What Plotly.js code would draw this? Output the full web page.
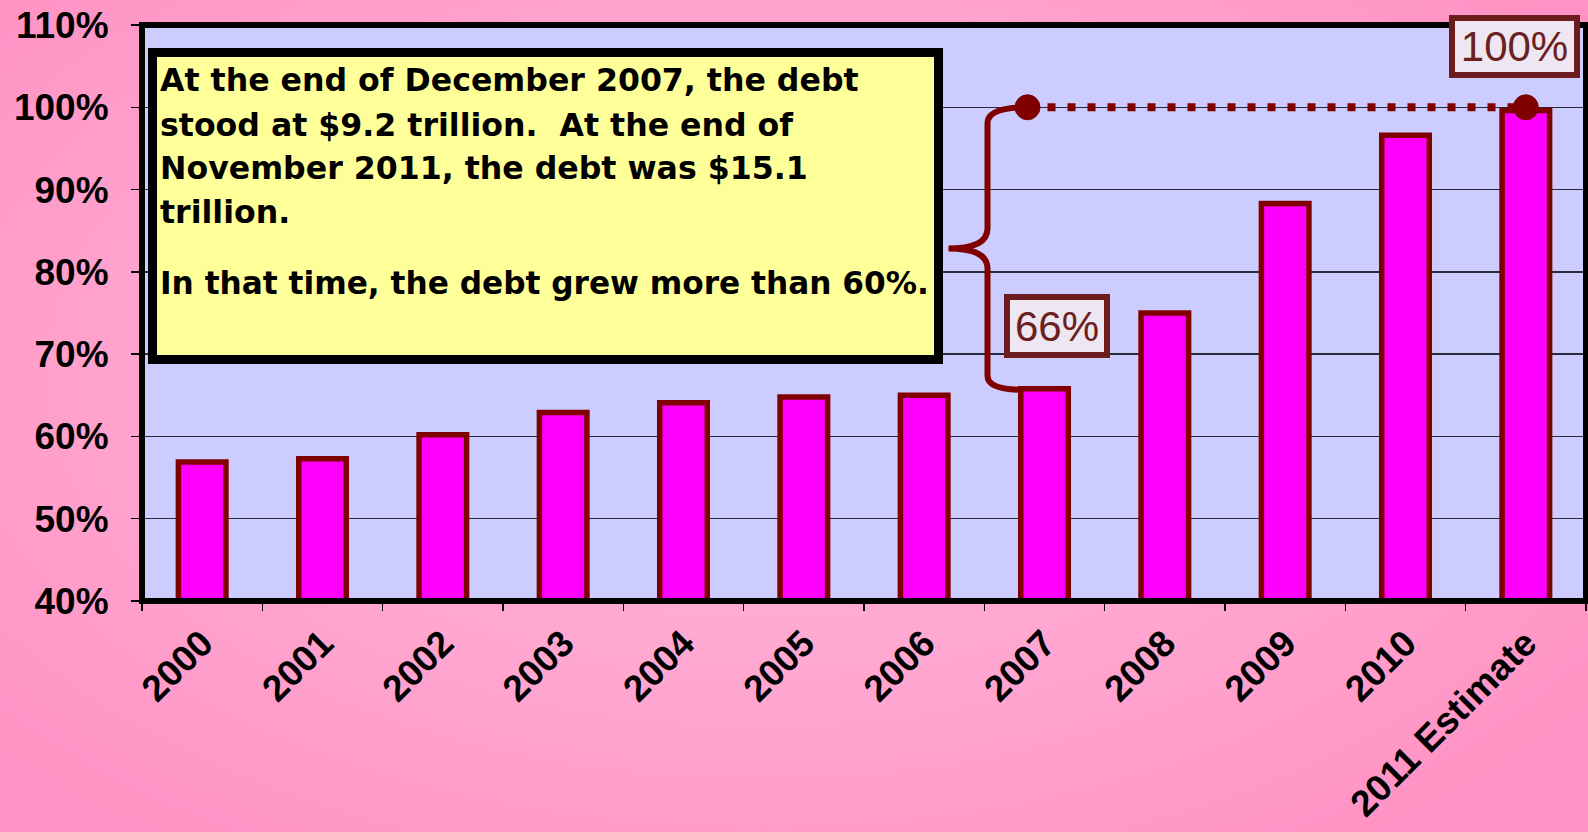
<!DOCTYPE html>
<html>
<head>
<meta charset="utf-8">
<script src="https://cdn.plot.ly/plotly-3.0.1.min.js"></script>
<style>
  html, body { margin: 0; padding: 0; }
  #chart {
    width: 1588px; height: 832px;
    background: radial-gradient(ellipse 65% 70% at 48% 45%, #ffb8da 0%, #ffa6d0 55%, #ff92c4 100%);
  }
</style>
</head>
<body>
<div id="chart"></div>
<script>
// ---- data ----
const categories = ['2000', '2001', '2002', '2003', '2004', '2005', '2006', '2007', '2008', '2009', '2010', '2011 Estimate'];
const debtPct = [56.9, 57.3, 60.2, 62.9, 64.1, 64.8, 65.0, 65.8, 75.0, 88.3, 96.6, 99.6];
const yTickVals = [40, 50, 60, 70, 80, 90, 100, 110];
const yTickText = ['40%', '50%', '60%', '70%', '80%', '90%', '100%', '110%'];
const noteLines = [
  'At the end of December 2007, the debt',
  'stood at $9.2 trillion.  At the end of',
  'November 2011, the debt was $15.1',
  'trillion.',
  'In that time, the debt grew more than 60%.'
];
const growthLabel = '66%';
const endLabel = '100%';
const startCategory = '2007';
const endCategory = '2011 Estimate';
const endLevel = 100;

// ---- geometry helpers ----
const W = 1588, H = 832;
const M = {l: 142, r: 2, t: 25, b: 231};
const pw = W - M.l - M.r, ph = H - M.t - M.b;
const yMin = 40, yMax = 110;
const px2x = px => (px - M.l) / pw;
const py2y = py => (H - M.b - py) / ph;
const catPx = i => M.l + (i + 0.5) * pw / categories.length;
const valPy = v => M.t + (yMax - v) * ph / (yMax - yMin);

const iStart = categories.indexOf(startCategory);
const iEnd = categories.indexOf(endCategory);
const maroon = '#800000';

// brace path (pixel space -> paper)
const cx = catPx(iStart);
const spineX = cx - 57, tipX = cx - 96;
const topX = cx - 17, topY = valPy(endLevel);
const botX = cx - 22, botY = valPy(debtPct[iStart]) + 1;
const midY = (topY + botY) / 2;
const P = (x, y) => px2x(x).toFixed(5) + ',' + py2y(y).toFixed(5);
const bracePath = 'M ' + P(topX, topY) +
  ' Q ' + P(spineX, topY) + ' ' + P(spineX, topY + 16) +
  ' L ' + P(spineX, midY - 20) +
  ' Q ' + P(spineX, midY) + ' ' + P(tipX, midY) +
  ' Q ' + P(spineX, midY) + ' ' + P(spineX, midY + 20) +
  ' L ' + P(spineX, botY - 14) +
  ' Q ' + P(spineX, botY) + ' ' + P(botX, botY);

const trace = {
  type: 'bar',
  x: categories,
  y: debtPct,
  marker: {color: '#ff00ff', line: {color: maroon, width: 5.5}},
  hoverinfo: 'x+y'
};

const shapes = [
  // text box
  {type: 'rect', xref: 'paper', yref: 'paper', layer: 'above',
   x0: px2x(152.5), x1: px2x(938.5), y0: py2y(52.5), y1: py2y(359.5),
   fillcolor: '#ffff99', line: {color: '#000000', width: 9}},
  // plot border
  {type: 'rect', xref: 'paper', yref: 'paper', layer: 'above',
   x0: 0, x1: 1, y0: 0, y1: 1, line: {color: '#000000', width: 6}},
  // brace
  {type: 'path', xref: 'paper', yref: 'paper', layer: 'above',
   path: bracePath, line: {color: maroon, width: 6}},
  // dotted level line
  {type: 'line', xref: 'paper', yref: 'paper', layer: 'above',
   x0: px2x(topX), x1: px2x(catPx(iEnd)), y0: py2y(topY), y1: py2y(topY),
   line: {color: maroon, width: 8, dash: '8px,12px'}},
  // dots
  {type: 'circle', xref: 'paper', yref: 'paper', layer: 'above',
   xsizemode: 'pixel', ysizemode: 'pixel',
   xanchor: px2x(topX), yanchor: py2y(topY), x0: -12.5, x1: 12.5, y0: -12.5, y1: 12.5,
   fillcolor: maroon, line: {color: maroon, width: 1}},
  {type: 'circle', xref: 'paper', yref: 'paper', layer: 'above',
   xsizemode: 'pixel', ysizemode: 'pixel',
   xanchor: px2x(catPx(iEnd)), yanchor: py2y(topY), x0: -12.5, x1: 12.5, y0: -12.5, y1: 12.5,
   fillcolor: maroon, line: {color: maroon, width: 1}}
];

const noteSizes = [31.6, 31.6, 31.6, 31.6, 31.2];
const noteCenters = [80, 125, 168, 212, 283];
const annotations = noteLines.map((t, k) => ({
  xref: 'paper', yref: 'paper', x: px2x(158), y: py2y(noteCenters[k]),
  xanchor: 'left', yanchor: 'middle', showarrow: false, text: t,
  font: {family: 'DejaVu Sans', size: noteSizes[k], color: '#000000', weight: 'bold'}
}));

const labelFont = {family: 'Liberation Sans, Arial', size: 42, color: '#6b2020'};
annotations.push({
  xref: 'paper', yref: 'paper', x: px2x(1057), y: py2y(326),
  xanchor: 'center', yanchor: 'middle', showarrow: false, text: growthLabel,
  font: labelFont, bgcolor: '#eee6f0', bordercolor: '#6b1c1c', borderwidth: 6,
  borderpad: 2, width: 90, height: 48
});
annotations.push({
  xref: 'paper', yref: 'paper', x: px2x(1514.5), y: py2y(46.5),
  xanchor: 'center', yanchor: 'middle', showarrow: false, text: endLabel,
  font: labelFont, bgcolor: '#eee6f0', bordercolor: '#6b1c1c', borderwidth: 6,
  borderpad: 2, width: 115, height: 47
});

const tickFont = {family: 'Liberation Sans, Arial', size: 37, color: '#000000', weight: 'bold'};

const layout = {
  width: W, height: H,
  margin: M,
  paper_bgcolor: 'rgba(0,0,0,0)',
  plot_bgcolor: '#ccccff',
  showlegend: false,
  bargap: 0.605,
  xaxis: {
    type: 'category',
    tickson: 'boundaries',
    ticks: 'outside', ticklen: 9, tickwidth: 1.5, tickcolor: '#000',
    tickangle: -45,
    tickfont: tickFont,
    ticklabelstandoff: 12,
    showline: false, showgrid: false, zeroline: false
  },
  yaxis: {
    range: [yMin, yMax],
    tickvals: yTickVals, ticktext: yTickText,
    ticks: 'outside', ticklen: 10, tickwidth: 1.5, tickcolor: '#000',
    tickfont: tickFont,
    ticklabelstandoff: 15,
    showgrid: true, gridcolor: '#2a2a3a', gridwidth: 1.5,
    showline: false, zeroline: false
  },
  shapes: shapes,
  annotations: annotations
};

Plotly.newPlot('chart', [trace], layout, {displayModeBar: false, staticPlot: true});
</script>
</body>
</html>
